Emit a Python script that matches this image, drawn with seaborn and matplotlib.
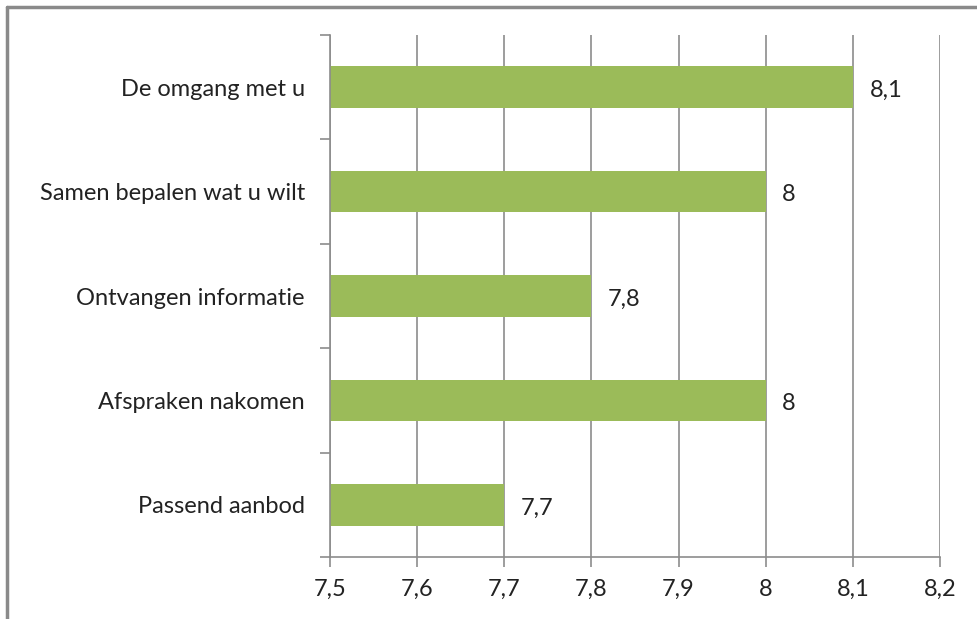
import matplotlib
matplotlib.use("Agg")
import matplotlib.pyplot as plt
import seaborn as sns
import pandas as pd
from matplotlib.lines import Line2D

categories = ["De omgang met u", "Samen bepalen wat u wilt", "Ontvangen informatie",
              "Afspraken nakomen", "Passend aanbod"]
values = [8.1, 8.0, 7.8, 8.0, 7.7]
value_labels = ["8,1", "8", "7,8", "8", "7,7"]
xticks = [7.5, 7.6, 7.7, 7.8, 7.9, 8.0, 8.1, 8.2]
xtick_labels = ["7,5", "7,6", "7,7", "7,8", "7,9", "8", "8,1", "8,2"]

sns.set_style("white")
plt.rcParams['font.family'] = ['Lato', 'DejaVu Sans']

df = pd.DataFrame({"cat": categories, "val": values})

fig = plt.figure(figsize=(9.78, 6.19), dpi=100)
ax = fig.add_axes([330/978, 1-557/619, (940-330)/978, (557-35)/619])

sns.barplot(data=df, y="cat", x="val", orient="h", color="#9BBB59",
            saturation=1, width=0.4, linewidth=0, ax=ax)
# bars start at the axis minimum 7.5
for p, v in zip(ax.patches, values):
    p.set_x(7.5)
    p.set_width(v - 7.5)

FS = 17
ax.set_xlim(7.5, 8.2)
ax.set_ylim(4.5, -0.5)
ax.set_xticks(xticks)
ax.set_xticklabels(xtick_labels, fontsize=FS, color="#222222")
ax.set_yticks(range(len(categories)))
ax.set_yticklabels(categories, fontsize=FS, color="#222222")
ax.set_xlabel("")
ax.set_ylabel("")

ax.grid(axis="x", color="#8c8c8c", linewidth=1.2)
ax.set_axisbelow(True)
for s in ["top", "right"]:
    ax.spines[s].set_visible(False)
for s in ["left", "bottom"]:
    ax.spines[s].set_visible(True)
    ax.spines[s].set_color("#8c8c8c")
    ax.spines[s].set_linewidth(1.2)

ax.tick_params(axis="x", which="major", direction="out", length=7, width=1.2,
               color="#8c8c8c", pad=9, bottom=True)
ax.tick_params(axis="y", which="major", length=0, pad=18)
ax.set_yticks([i - 0.5 for i in range(len(categories) + 1)], minor=True)
ax.tick_params(axis="y", which="minor", direction="out", length=7, width=1.2,
               color="#8c8c8c", left=True)

for i, (v, lab) in enumerate(zip(values, value_labels)):
    ax.text(v + 0.019, i + 0.03, lab, va="center", ha="left", fontsize=FS, color="#222222")

# partial frame (left and top)
fig.add_artist(Line2D([7/978, 7/978], [0, 1-7/619], transform=fig.transFigure,
                      color="#8a8a8a", linewidth=2.5))
fig.add_artist(Line2D([7/978, 1], [1-7/619, 1-7/619], transform=fig.transFigure,
                      color="#8a8a8a", linewidth=2.5))

fig.savefig("out.png", dpi=100)
